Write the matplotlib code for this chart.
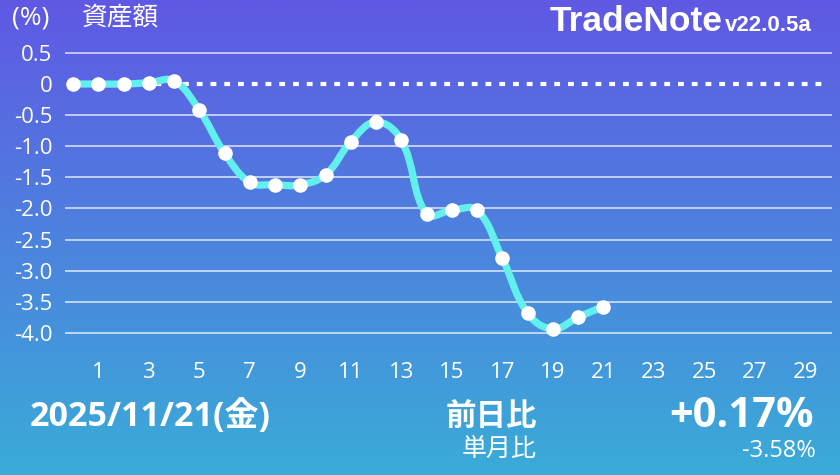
import numpy as np
import matplotlib.pyplot as plt
from matplotlib.path import Path
from matplotlib.patches import PathPatch

plt.rcParams['font.family'] = ['Open Sans', 'Noto Sans CJK JP', 'DejaVu Sans']

# データ（月初からの資産額の変化率, %）
days = list(range(0, 22))
values = [0.0, 0.0, 0.0, 0.02, 0.05, -0.42, -1.11, -1.58, -1.62, -1.62, -1.46,
          -0.93, -0.61, -0.90, -2.09, -2.03, -2.03, -2.80, -3.68, -3.94, -3.75, -3.58]
y_ticks = [0.5, 0, -0.5, -1.0, -1.5, -2.0, -2.5, -3.0, -3.5, -4.0]
y_labels = ['0.5', '0', '-0.5', '-1.0', '-1.5', '-2.0', '-2.5', '-3.0', '-3.5', '-4.0']
x_ticks = list(range(1, 30, 2))
date_text = '2025/11/21(金)'
day_change = '+0.17%'
month_change = '-3.58%'

W, H = 840, 475
SX, SY = 25.25, 62.2  # 1日あたり, 1%あたりのピクセル


def fpos(x, y):
    return x / W, 1 - y / H


def spline_path(xs, ys, tension=0.4):
    # Chart.js風のベジェ曲線
    px = np.array(xs, float) * SX
    py = np.array(ys, float) * SY
    n = len(px)
    cin, cout = [], []
    for i in range(n):
        p = i - 1 if i > 0 else i
        q = i + 1 if i < n - 1 else i
        d01 = np.hypot(px[i] - px[p], py[i] - py[p])
        d12 = np.hypot(px[q] - px[i], py[q] - py[i])
        s = d01 + d12
        fa = tension * d01 / s if s else 0
        fb = tension * d12 / s if s else 0
        vx, vy = px[q] - px[p], py[q] - py[p]
        cin.append((px[i] - fa * vx, py[i] - fa * vy))
        cout.append((px[i] + fb * vx, py[i] + fb * vy))
    verts = [(px[0], py[0])]
    codes = [Path.MOVETO]
    for i in range(n - 1):
        verts += [cout[i], cin[i + 1], (px[i + 1], py[i + 1])]
        codes += [Path.CURVE4] * 3
    verts = [(x / SX, y / SY) for x, y in verts]
    return Path(verts, codes)


fig = plt.figure(figsize=(8.4, 4.75), dpi=100)

# 背景グラデーション
bg = fig.add_axes([0, 0, 1, 1], zorder=0)
top = np.array([96, 88, 228]) / 255
bottom = np.array([58, 172, 216]) / 255
t = np.linspace(0, 1, 256)[:, None]
grad = top * (1 - t) + bottom * t
bg.imshow(grad[:, None, :], aspect='auto', extent=[0, 1, 0, 1])
bg.axis('off')

# グラフ本体
x_left, x_right = 65, 832
y_top, y_bottom = 40, 345
ax = fig.add_axes([x_left / W, 1 - y_bottom / H, (x_right - x_left) / W, (y_bottom - y_top) / H], zorder=1)
ax.patch.set_alpha(0)
ax.set_xlim((x_left - 73) / SX, (x_right - 73) / SX)
ax.set_ylim((84 - y_bottom) / SY, (84 - y_top) / SY)
for s in ax.spines.values():
    s.set_visible(False)

for v in y_ticks:
    if v != 0:
        ax.axhline(v, color='white', alpha=0.75, lw=1.2, zorder=1)
ax.plot([0, (828 - 73) / SX], [0, 0], color='white', lw=3, linestyle=(0, (1.4, 1.9)),
        solid_capstyle='butt', dash_capstyle='butt', zorder=2)

ax.add_patch(PathPatch(spline_path(days, values), facecolor='none', edgecolor='#62F0EE',
                       lw=5.2, capstyle='round', joinstyle='round', zorder=3, clip_on=False))
ax.plot(days, values, 'o', ms=10.5, color='white', mec='none', zorder=4, clip_on=False)

ax.set_yticks(y_ticks)
ax.set_yticklabels(y_labels)
ax.set_xticks(x_ticks)
ax.set_xticklabels([str(x) for x in x_ticks])
ax.tick_params(axis='y', length=0, pad=9, labelsize=16, labelcolor='white')
ax.tick_params(axis='x', length=0, pad=12, labelsize=16, labelcolor='white')

# テキスト
fig.text(*fpos(12, 18), '(%)', color='white', fontsize=19, ha='left', va='center')
fig.text(*fpos(82, 18), '資産額', color='white', fontsize=18.5, ha='left', va='center')
fig.text(*fpos(550, 31), 'TradeNote', color='white', fontsize=25.5, fontweight='bold',
         family='Liberation Sans', ha='left', va='baseline')
fig.text(*fpos(725, 31), 'v22.0.5a', color='white', fontsize=16, fontweight='bold',
         family='Liberation Sans', ha='left', va='baseline')
fig.text(*fpos(30, 426), date_text, color='white', fontsize=24.5, fontweight='bold',
         ha='left', va='baseline')
fig.text(*fpos(537, 426), '前日比', color='white', fontsize=22, fontweight='bold',
         ha='right', va='baseline')
fig.text(*fpos(814, 427), day_change, color='white', fontsize=30, fontweight='bold',
         ha='right', va='baseline')
fig.text(*fpos(537, 456), '単月比', color='white', fontsize=18, ha='right', va='baseline')
fig.text(*fpos(816, 457), month_change, color='white', fontsize=17, ha='right', va='baseline')

fig.savefig('out.png', dpi=100)
